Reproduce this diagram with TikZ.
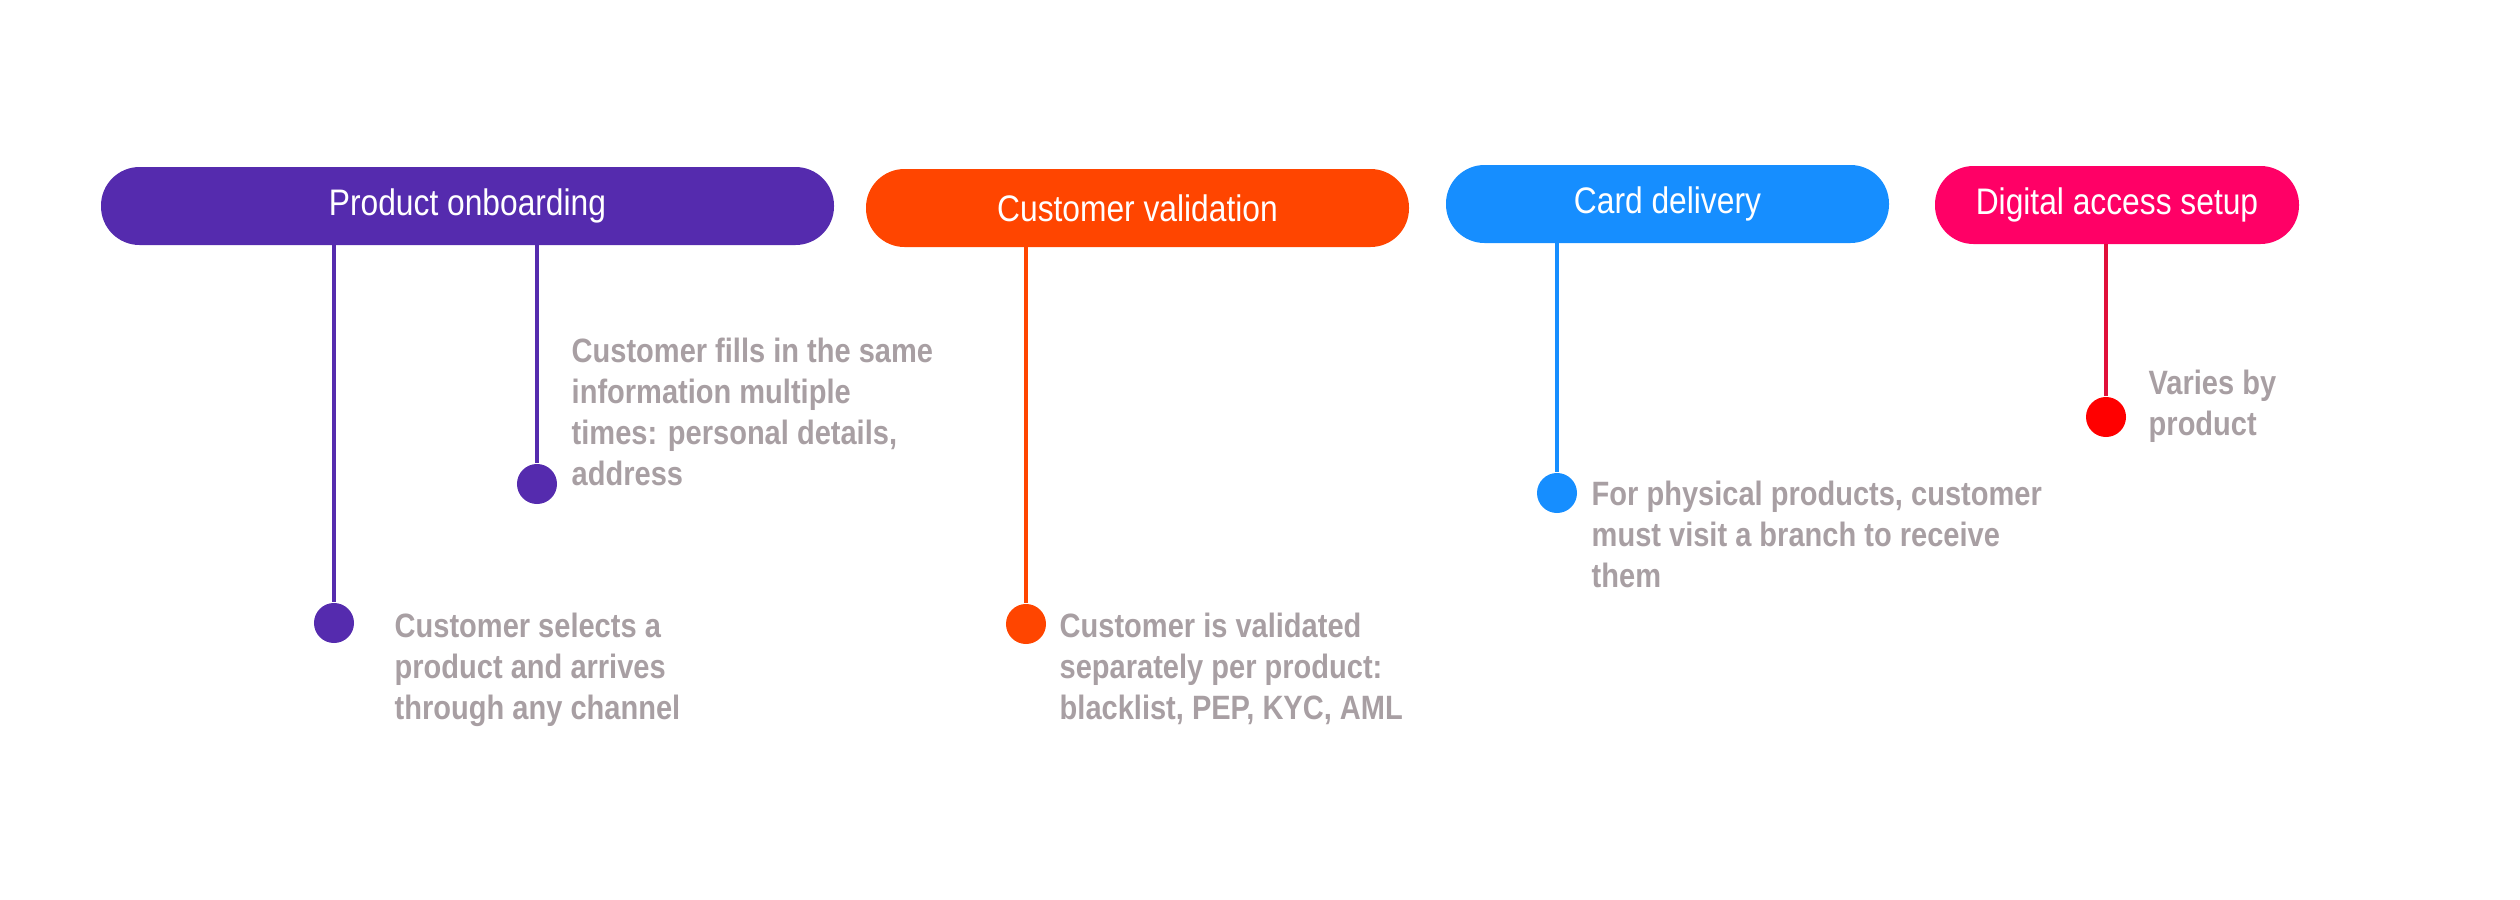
\documentclass[tikz,border=0pt]{standalone}
\usepackage{fontspec}
\setmainfont{Liberation Sans}[FakeStretch=0.86]
\definecolor{cpur}{HTML}{552BAE}
\definecolor{cora}{HTML}{FF4500}
\definecolor{cblu}{HTML}{168EFF}
\definecolor{cpnk}{HTML}{FF0066}
\definecolor{cred}{HTML}{FF0000}
\definecolor{cline}{HTML}{E0103A}
\definecolor{cgry}{HTML}{A89FA3}
\begin{document}
\begin{tikzpicture}[x=0.01cm,y=-0.01cm,
  pill/.style={rounded corners=38.5\pgflinewidth,draw=none,text=white,font=\fontsize{10}{12}\selectfont},
  note/.style={anchor=north west,inner sep=0pt,align=left,text=cgry,font=\bfseries\fontsize{9.6}{11.7}\selectfont},
  dot/.style={circle,minimum size=40\pgflinewidth,inner sep=0pt,draw=none},
  conn/.style={line width=1.2pt}]
\useasboundingbox (0,0) rectangle (2520,900);
\fill[cpur,rounded corners=0.385cm] (101,167) rectangle (834,245);
\node[text=white,font=\fontsize{10.5}{12}\selectfont] (p1) at (467.5,206) {Product onboarding};
\fill[cora,rounded corners=0.385cm] (866,169) rectangle (1409,247);
\node[text=white,font=\fontsize{10.5}{12}\selectfont] (p2) at (1137.5,208) {Customer validation};
\fill[cblu,rounded corners=0.385cm] (1446,165) rectangle (1889,243);
\node[text=white,font=\fontsize{10.5}{12}\selectfont] (p3) at (1667.5,204) {Card delivery};
\fill[cpnk,rounded corners=0.385cm] (1935,166) rectangle (2299,244);
\node[text=white,font=\fontsize{10.5}{12}\selectfont] (p4) at (2117,205) {Digital access setup};
\coordinate (a1) at (334,245); \coordinate (a2) at (537,245);
\coordinate (a3) at (1026,247); \coordinate (a4) at (1557,243); \coordinate (a5) at (2106,244);
\node[circle,fill=cpur,minimum size=0.4cm,inner sep=0pt] (d1) at (334,623) {};
\node[circle,fill=cpur,minimum size=0.4cm,inner sep=0pt] (d2) at (537,484) {};
\node[circle,fill=cora,minimum size=0.4cm,inner sep=0pt] (d3) at (1026,624) {};
\node[circle,fill=cblu,minimum size=0.4cm,inner sep=0pt] (d4) at (1557,493) {};
\node[circle,fill=cred,minimum size=0.4cm,inner sep=0pt] (d5) at (2106,417) {};
\draw[cpur,conn] (a1) -- (d1);
\draw[cpur,conn] (a2) -- (d2);
\draw[cora,conn] (a3) -- (d3);
\draw[cblu,conn] (a4) -- (d4);
\draw[cline,conn] (a5) -- (d5);
\node[note] (t1) at (394,612) {Customer selects a\\product and arrives\\through any channel};
\node[note] (t2) at (571,337) {Customer fills in the same\\information multiple\\times: personal details,\\address};
\node[note] (t3) at (1059,612) {Customer is validated\\separately per product:\\blacklist, PEP, KYC, AML};
\node[note] (t4) at (1591,480) {For physical products, customer\\must visit a branch to receive\\them};
\node[note] (t5) at (2148,369) {Varies by\\product};
\end{tikzpicture}
\end{document}
